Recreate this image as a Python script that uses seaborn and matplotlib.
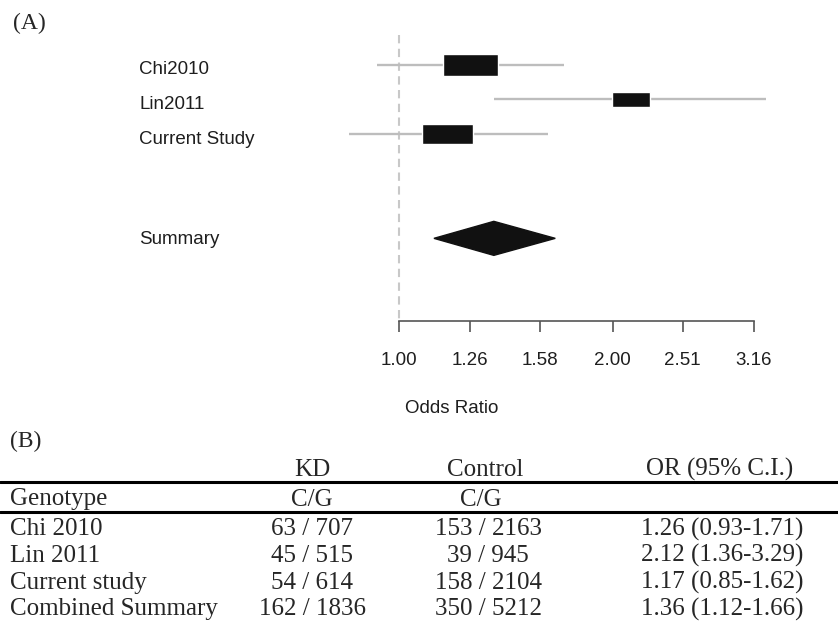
import numpy as np
import matplotlib
matplotlib.use("Agg")
import matplotlib.pyplot as plt
import matplotlib.transforms as mtransforms
from matplotlib.ticker import NullLocator
import seaborn as sns

# (A) forest plot data
studies = ["Chi2010", "Lin2011", "Current Study"]
odds_ratio = [1.26, 2.12, 1.17]
ci_low = [0.93, 1.36, 0.85]
ci_high = [1.71, 3.29, 1.62]
box_weight = [1.0, 0.69, 0.93]  # relative box size

summary_label = "Summary"
summary_or = 1.36
summary_low = 1.12
summary_high = 1.66

xtick_values = [1.00, 1.26, 1.58, 2.00, 2.51, 3.16]

# (B) table data
table_studies = ["Chi 2010", "Lin 2011", "Current study", "Combined Summary"]
kd_c = [63, 45, 54, 162]
kd_g = [707, 515, 614, 1836]
ctrl_c = [153, 39, 158, 350]
ctrl_g = [2163, 945, 2104, 5212]
table_or = odds_ratio + [summary_or]
table_low = ci_low + [summary_low]
table_high = ci_high + [summary_high]

sns.set_theme(style="white")
plt.rcParams["font.family"] = ["Liberation Sans", "DejaVu Sans"]

W, H = 838, 623
fig = plt.figure(figsize=(W / 100, H / 100), dpi=100)


def px_rect(l, t, r, b):
    return [l / W, 1 - b / H, (r - l) / W, (b - t) / H]


# ---- forest plot ----
ax = fig.add_axes(px_rect(330, 30, 790, 321))
rows = np.arange(len(studies))
summary_row = 5

ax.set_xscale("log")
ax.set_xlim(10 ** -0.0972, 10 ** 0.5507)
ax.set_ylim(7.38, -1.0)

ax.vlines(1.0, -0.86, 7.38, colors="#c8c8c8", linestyles=(0, (4, 2.6)), lw=1.5, zorder=1)
ax.hlines(rows, ci_low, ci_high, colors="#bdbdbd", lw=1.7, zorder=2)

w = np.array(box_weight)
logx = np.log10(odds_ratio)
left = 10 ** (logx - 0.0388 * w)
right = 10 ** (logx + 0.0388 * w)
ax.barh(rows, right - left, left=left, height=0.634 * w, color="#111111", zorder=3)

ax.fill([summary_low, summary_or, summary_high, summary_or],
        [summary_row, summary_row - 0.49, summary_row, summary_row + 0.49],
        color="#111111", zorder=3)

label_trans = mtransforms.blended_transform_factory(fig.transFigure, ax.transData)
for r, name in zip(rows, studies):
    ax.text(139 / W, r + 0.28, name, transform=label_trans, ha="left", va="baseline",
            fontsize=13.5, color="#1e1e1e")
ax.text(139 / W, summary_row + 0.15, summary_label, transform=label_trans, ha="left",
        va="baseline", fontsize=13.5, color="#1e1e1e")

sns.despine(ax=ax, left=True, top=True, right=True)
ax.spines["bottom"].set_bounds(1.0, 3.16)
ax.spines["bottom"].set_color("#555555")
ax.spines["bottom"].set_linewidth(1.2)
ax.set_xticks(xtick_values)
ax.set_xticklabels([f"{v:.2f}" for v in xtick_values])
ax.xaxis.set_minor_locator(NullLocator())
ax.set_yticks([])
ax.tick_params(axis="x", bottom=True, direction="out", length=8, width=1.2,
               color="#555555", pad=14.5, labelsize=13.5, labelcolor="#1e1e1e")
ax.set_xlabel("Odds Ratio", fontsize=13.5, color="#1e1e1e")
ax.xaxis.set_label_coords((452 - 330) / 460, -(408 - 321) / 291)
ax.xaxis.label.set_va("center")
ax.grid(False)

serif = ["Liberation Serif", "DejaVu Serif"]
fig.text(13 / W, 1 - 23 / H, "(A)", family=serif, fontsize=17, va="center", ha="left")

# ---- table ----
tax = fig.add_axes(px_rect(0, 420, 838, 623))
tax.set_xlim(0, W)
tax.set_ylim(623, 420)
tax.axis("off")

tax.text(10, 441, "(B)", family=serif, fontsize=17, va="center", ha="left")

col_x = [10, 312, 487, 722]
fs = 18
header_y = 469.5
sub_y = 499.5
tax.text(col_x[1], header_y, "KD", family=serif, fontsize=fs, ha="center", va="center")
tax.text(col_x[2] - 2, header_y, "Control", family=serif, fontsize=fs, ha="center", va="center")
tax.text(col_x[3] - 2, header_y, "OR (95% C.I.)", family=serif, fontsize=fs, ha="center", va="center")
tax.text(col_x[0], sub_y, "Genotype", family=serif, fontsize=fs, ha="left", va="center")
tax.text(col_x[1], sub_y, "C/G", family=serif, fontsize=fs, ha="center", va="center")
tax.text(col_x[2] - 6, sub_y, "C/G", family=serif, fontsize=fs, ha="center", va="center")

tax.axhline(481.5, color="black", lw=2.2)
tax.axhline(511.5, color="black", lw=2.2)

for i, name in enumerate(table_studies):
    y = 529.2 + 26.7 * i
    tax.text(col_x[0], y, name, family=serif, fontsize=fs, ha="left", va="center")
    tax.text(col_x[1], y, f"{kd_c[i]} / {kd_g[i]}", family=serif, fontsize=fs, ha="center", va="center")
    tax.text(col_x[2] + 1, y, f"{ctrl_c[i]} / {ctrl_g[i]}", family=serif, fontsize=fs, ha="center", va="center")
    tax.text(col_x[3], y, f"{table_or[i]:.2f} ({table_low[i]:.2f}-{table_high[i]:.2f})",
             family=serif, fontsize=fs, ha="center", va="center")

fig.savefig("out.png", dpi=100)
